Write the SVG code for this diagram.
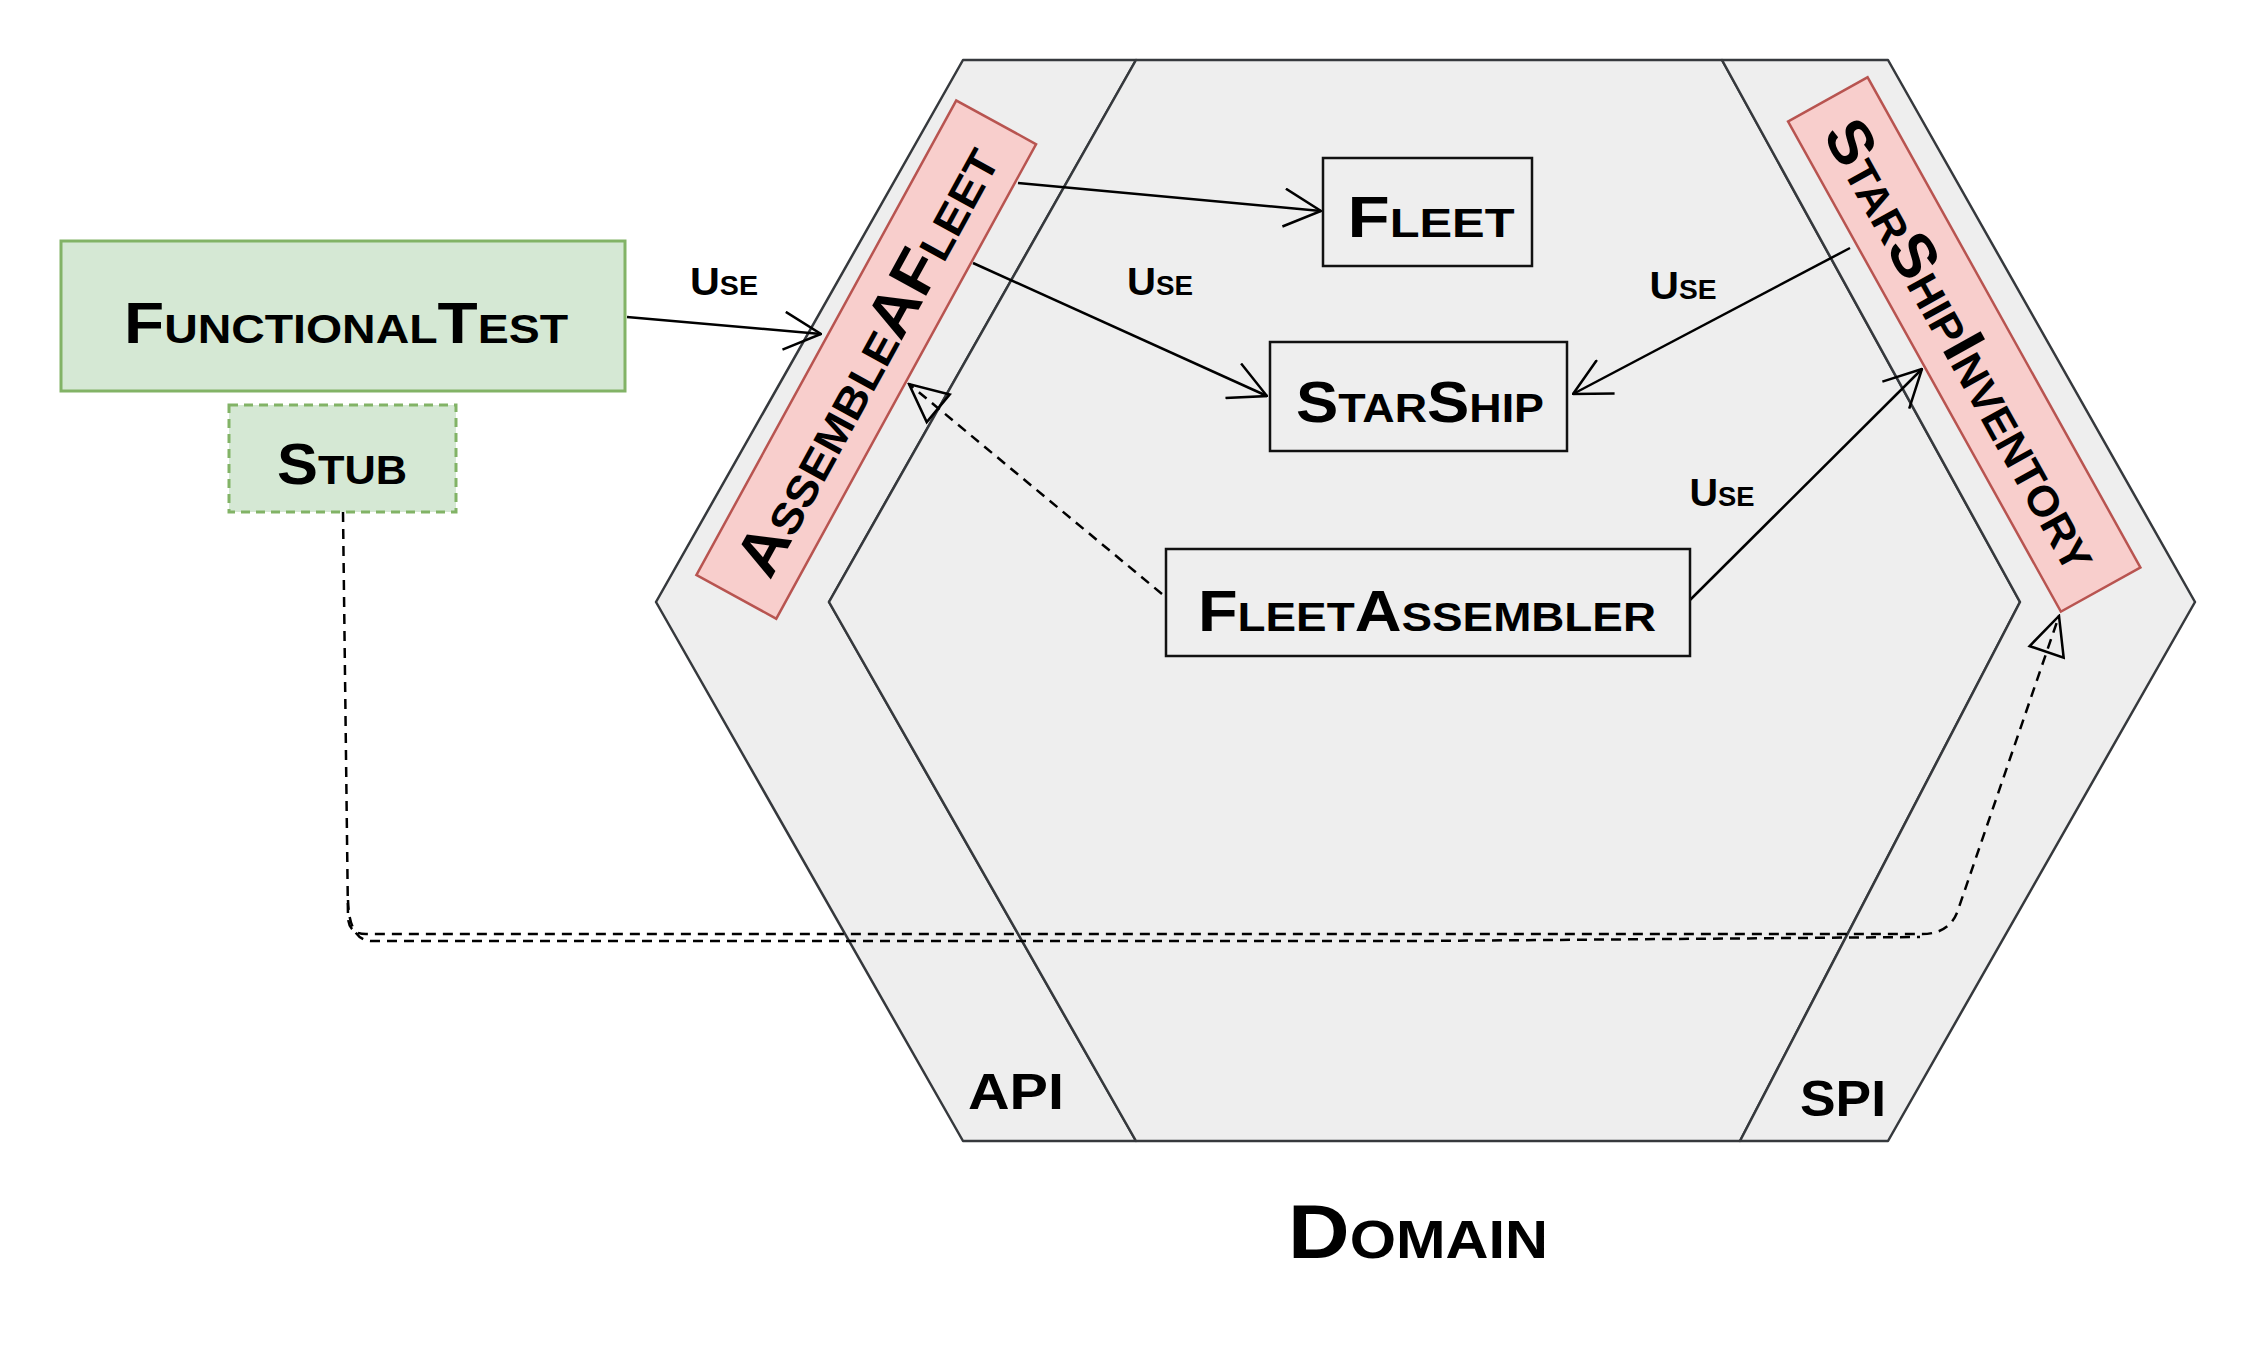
<svg xmlns="http://www.w3.org/2000/svg" width="2260" height="1350" viewBox="0 0 2260 1350">
<style>
.hex{fill:#eeeeee;stroke:#36393d;stroke-width:2.5;stroke-linejoin:round}
.box{fill:#eeeeee;stroke:#111;stroke-width:2.5}
.green{fill:#d5e8d4;stroke:#82b366;stroke-width:3}
.red{fill:#f8cecc;stroke:#b85450;stroke-width:2.5}
.lbl{font-family:"Liberation Sans",Arial,sans-serif;font-weight:700;font-variant:small-caps;fill:#000;text-anchor:middle}
.big{font-size:58px}
.use{font-size:39px}
.conn{fill:none;stroke:#000;stroke-width:2.5}
.dash{stroke-dasharray:10 7}
</style>
<defs>
<marker id="open" viewBox="0 0 40 40" refX="39" refY="20" markerWidth="40" markerHeight="40" markerUnits="userSpaceOnUse" orient="auto">
<path d="M2,1 L39,20 L2,39" fill="none" stroke="#000" stroke-width="2.5"/>
</marker>
<marker id="tri" viewBox="0 0 42 40" refX="40" refY="20" markerWidth="42" markerHeight="40" markerUnits="userSpaceOnUse" orient="auto">
<path d="M2,2 L40,20 L2,38 Z" fill="none" stroke="#000" stroke-width="2.5"/>
</marker>
</defs>
<rect width="2260" height="1350" fill="#ffffff"/>
<g id="hexagon">
<polygon id="api-band" class="hex" points="963,60 1136,60 829,602 1136,1141 963,1141 656,602"/>
<polygon id="domain" class="hex" points="1136,60 1722,60 2020,602 1740,1141 1136,1141 829,602"/>
<polygon id="spi-band" class="hex" points="1722,60 1888,60 2195,602 1888,1141 1740,1141 2020,602"/>
<text class="lbl" x="1016" y="1109" font-size="50" textLength="96" lengthAdjust="spacingAndGlyphs">API</text>
<text class="lbl" x="1843" y="1116" font-size="50" textLength="86" lengthAdjust="spacingAndGlyphs">SPI</text>
<text class="lbl" x="1418" y="1258" font-size="76" textLength="260" lengthAdjust="spacingAndGlyphs">Domain</text>
</g>
<g id="connectors">
<path class="conn" d="M627,317 L821,334" marker-end="url(#open)"/>
<path class="conn" d="M1018,183 L1321,211" marker-end="url(#open)"/>
<path class="conn" d="M973,263 L1267,396" marker-end="url(#open)"/>
<path class="conn" d="M1850,248 L1573,394" marker-end="url(#open)"/>
<path class="conn" d="M1690,600 L1922,369" marker-end="url(#open)"/>
<path class="conn dash" d="M1162,594 L909,384" marker-end="url(#tri)"/>
<path class="conn dash" d="M343,512 L348,918 Q349,934 366,934 L1922,934 Q1950,934 1958,910 L2059,616" marker-end="url(#tri)"/>
<path class="conn dash" d="M348,900 Q349,941 372,941 L1420,941 L1920,937" stroke-width="2"/>
<text class="lbl use" x="724" y="295" textLength="68" lengthAdjust="spacingAndGlyphs">Use</text>
<text class="lbl use" x="1160" y="295" textLength="66" lengthAdjust="spacingAndGlyphs">Use</text>
<text class="lbl use" x="1683" y="299" textLength="67" lengthAdjust="spacingAndGlyphs">Use</text>
<text class="lbl use" x="1722" y="506" textLength="65" lengthAdjust="spacingAndGlyphs">Use</text>
</g>
<g id="functional-test">
<rect class="green" x="61" y="241" width="564" height="150"/>
<text class="lbl big" x="346" y="343" textLength="444" lengthAdjust="spacingAndGlyphs">FunctionalTest</text>
</g>
<g id="stub">
<rect class="green" x="229" y="405" width="227" height="107" stroke-dasharray="9 6"/>
<text class="lbl big" x="342" y="484" textLength="130" lengthAdjust="spacingAndGlyphs">Stub</text>
</g>
<g id="assemble-a-fleet" transform="translate(866,360) rotate(-61.3)">
<rect class="red" x="-270" y="-45.5" width="541" height="91"/>
<text class="lbl" x="0" y="22" font-size="62" textLength="480" lengthAdjust="spacingAndGlyphs">AssembleAFleet</text>
</g>
<g id="star-ship-inventory" transform="translate(1964,344) rotate(60.9)">
<rect class="red" x="-280" y="-45.5" width="561" height="91"/>
<text class="lbl" x="0" y="22" font-size="62" textLength="505" lengthAdjust="spacingAndGlyphs">StarShipInventory</text>
</g>
<g id="fleet">
<rect class="box" x="1323" y="158" width="209" height="108"/>
<text class="lbl big" x="1431" y="237" textLength="167" lengthAdjust="spacingAndGlyphs">Fleet</text>
</g>
<g id="star-ship">
<rect class="box" x="1270" y="342" width="297" height="109"/>
<text class="lbl big" x="1420" y="422" textLength="248" lengthAdjust="spacingAndGlyphs">StarShip</text>
</g>
<g id="fleet-assembler">
<rect class="box" x="1166" y="549" width="524" height="107"/>
<text class="lbl big" x="1427" y="631" textLength="458" lengthAdjust="spacingAndGlyphs">FleetAssembler</text>
</g>
</svg>
